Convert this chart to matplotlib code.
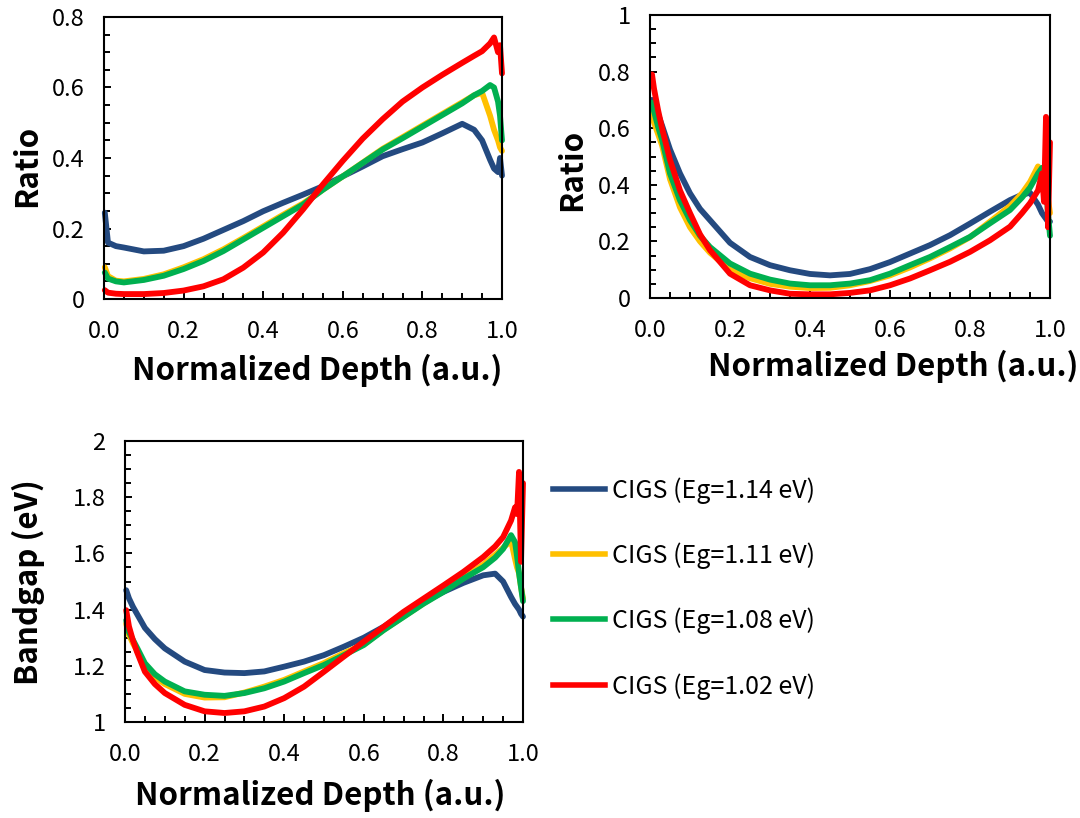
import matplotlib
matplotlib.use('Agg')
import matplotlib.pyplot as plt
from matplotlib.ticker import MultipleLocator
from matplotlib.lines import Line2D

plt.rcParams['font.family'] = ['Noto Sans CJK JP', 'DejaVu Sans']

labels = ['CIGS (Eg=1.14 eV)', 'CIGS (Eg=1.11 eV)', 'CIGS (Eg=1.08 eV)', 'CIGS (Eg=1.02 eV)']
colors = ['#244a80', '#ffc000', '#00b050', '#ff0000']

# top-left panel: ratio vs normalized depth
depth_a = [0.002, 0.01, 0.03, 0.05, 0.1, 0.15, 0.2, 0.25, 0.3, 0.35, 0.4, 0.45, 0.5, 0.55,
           0.6, 0.65, 0.7, 0.75, 0.8, 0.85, 0.9, 0.93, 0.95, 0.97, 0.98, 0.99, 0.995, 1.0]
ratio_a_114 = [0.245, 0.16, 0.15, 0.146, 0.135, 0.137, 0.15, 0.171, 0.196, 0.221, 0.249, 0.273, 0.296, 0.32,
               0.348, 0.376, 0.405, 0.425, 0.444, 0.47, 0.497, 0.48, 0.45, 0.395, 0.37, 0.36, 0.40, 0.35]
ratio_a_111 = [0.09, 0.065, 0.052, 0.05, 0.057, 0.07, 0.09, 0.113, 0.141, 0.173, 0.206, 0.239, 0.271, 0.31,
               0.348, 0.387, 0.426, 0.459, 0.492, 0.525, 0.558, 0.578, 0.585, 0.52, 0.48, 0.45, 0.43, 0.42]
ratio_a_108 = [0.075, 0.058, 0.05, 0.047, 0.054, 0.066, 0.085, 0.108, 0.136, 0.169, 0.202, 0.235, 0.268, 0.31,
               0.348, 0.386, 0.424, 0.456, 0.489, 0.522, 0.555, 0.578, 0.59, 0.607, 0.60, 0.56, 0.52, 0.45]
ratio_a_102 = [0.025, 0.018, 0.015, 0.014, 0.014, 0.017, 0.024, 0.036, 0.056, 0.089, 0.132, 0.188, 0.254, 0.325,
               0.392, 0.455, 0.51, 0.56, 0.60, 0.636, 0.67, 0.69, 0.703, 0.725, 0.742, 0.70, 0.72, 0.64]

# top-right panel: ratio vs normalized depth
depth_b = [0.005, 0.01, 0.02, 0.03, 0.05, 0.075, 0.1, 0.125, 0.15, 0.2, 0.25, 0.3, 0.35, 0.4, 0.45, 0.5,
           0.55, 0.6, 0.65, 0.7, 0.75, 0.8, 0.85, 0.9, 0.93, 0.95, 0.97, 0.98, 0.985, 0.99, 0.995, 1.0]
ratio_b_114 = [0.70, 0.68, 0.65, 0.61, 0.525, 0.44, 0.37, 0.315, 0.275, 0.195, 0.145, 0.116, 0.098, 0.085, 0.08, 0.085,
               0.102, 0.127, 0.157, 0.187, 0.222, 0.263, 0.305, 0.346, 0.365, 0.372, 0.33, 0.30, 0.29, 0.28, 0.27, 0.27]
ratio_b_111 = [0.65, 0.62, 0.58, 0.54, 0.42, 0.32, 0.25, 0.2, 0.16, 0.10, 0.07, 0.05, 0.04, 0.035, 0.036, 0.045,
               0.06, 0.08, 0.108, 0.14, 0.175, 0.215, 0.27, 0.325, 0.37, 0.41, 0.465, 0.44, 0.42, 0.40, 0.35, 0.30]
ratio_b_108 = [0.69, 0.66, 0.606, 0.56, 0.44, 0.345, 0.275, 0.22, 0.18, 0.122, 0.086, 0.065, 0.051, 0.045, 0.045, 0.051,
               0.063, 0.086, 0.116, 0.145, 0.18, 0.216, 0.264, 0.311, 0.355, 0.39, 0.44, 0.46, 0.45, 0.40, 0.30, 0.22]
ratio_b_102 = [0.79, 0.74, 0.665, 0.6, 0.488, 0.38, 0.30, 0.225, 0.169, 0.086, 0.045, 0.027, 0.015, 0.013, 0.013, 0.018,
               0.027, 0.045, 0.069, 0.098, 0.128, 0.163, 0.204, 0.252, 0.30, 0.335, 0.38, 0.44, 0.34, 0.64, 0.25, 0.55]

# bottom panel: bandgap vs normalized depth
depth_c = [0.003, 0.01, 0.02, 0.03, 0.05, 0.075, 0.1, 0.15, 0.2, 0.25, 0.3, 0.35, 0.4, 0.45, 0.5, 0.55,
           0.6, 0.65, 0.7, 0.75, 0.8, 0.85, 0.9, 0.93, 0.95, 0.97, 0.98, 0.985, 0.99, 0.995, 1.0]
gap_114 = [1.469, 1.44, 1.41, 1.385, 1.335, 1.295, 1.262, 1.215, 1.185, 1.176, 1.174, 1.18, 1.197, 1.215, 1.238, 1.268,
           1.30, 1.339, 1.386, 1.427, 1.463, 1.495, 1.522, 1.528, 1.50, 1.445, 1.42, 1.41, 1.40, 1.385, 1.375]
gap_111 = [1.35, 1.31, 1.28, 1.255, 1.2, 1.16, 1.135, 1.1, 1.087, 1.088, 1.105, 1.126, 1.15, 1.18, 1.21, 1.245,
           1.276, 1.328, 1.375, 1.422, 1.466, 1.512, 1.56, 1.595, 1.62, 1.645, 1.58, 1.55, 1.53, 1.48, 1.44]
gap_108 = [1.362, 1.32, 1.292, 1.265, 1.209, 1.17, 1.144, 1.109, 1.097, 1.093, 1.103, 1.12, 1.144, 1.174, 1.203, 1.238,
           1.274, 1.327, 1.374, 1.421, 1.463, 1.51, 1.551, 1.585, 1.616, 1.665, 1.64, 1.59, 1.53, 1.48, 1.43]
gap_102 = [1.398, 1.34, 1.29, 1.25, 1.179, 1.135, 1.103, 1.061, 1.038, 1.032, 1.038, 1.055, 1.085, 1.126, 1.179, 1.233,
           1.286, 1.339, 1.392, 1.439, 1.486, 1.534, 1.587, 1.625, 1.658, 1.717, 1.764, 1.74, 1.89, 1.57, 1.85]

W, H = 1080, 818
fig = plt.figure(figsize=(W / 100, H / 100), dpi=100)


def box(l, t, r, b):
    return [l / W, 1 - b / H, (r - l) / W, (b - t) / H]


def style(ax, ymin, ymax, yfmt):
    ax.set_xlim(0, 1)
    ax.set_ylim(ymin, ymax)
    ax.xaxis.set_major_locator(MultipleLocator(0.2))
    ax.xaxis.set_minor_locator(MultipleLocator(0.05))
    ax.yaxis.set_major_locator(MultipleLocator(0.2))
    ax.yaxis.set_minor_locator(MultipleLocator(0.05))
    ax.xaxis.set_major_formatter(lambda v, p: f"{v:.1f}")
    ax.yaxis.set_major_formatter(yfmt)
    ax.tick_params(which='both', direction='in', top=False, right=False, labelsize=17, width=1.4)
    ax.tick_params(axis='x', which='major', length=6, pad=15)
    ax.tick_params(axis='x', which='minor', length=4)
    ax.tick_params(axis='y', which='major', length=5, pad=14)
    ax.tick_params(axis='y', which='minor', length=4)
    for s in ax.spines.values():
        s.set_linewidth(1.5)


def fmt_ratio(v, p):
    return '0' if abs(v) < 1e-9 else ('1' if abs(v - 1) < 1e-9 else f"{v:.1f}")


def fmt_gap(v, p):
    return f"{v:.0f}" if abs(v - round(v)) < 1e-9 else f"{v:.1f}"


lw = 4.2

ax1 = fig.add_axes(box(104, 17, 502, 299))
for y, c in zip([ratio_a_114, ratio_a_111, ratio_a_108, ratio_a_102], colors):
    ax1.plot(depth_a, y, color=c, lw=lw, solid_capstyle='round', clip_on=False)
style(ax1, 0, 0.8, fmt_ratio)

ax2 = fig.add_axes(box(650, 15, 1050, 298))
for y, c in zip([ratio_b_114, ratio_b_111, ratio_b_108, ratio_b_102], colors):
    ax2.plot(depth_b, y, color=c, lw=lw, solid_capstyle='round', clip_on=False)
style(ax2, 0, 1.0, fmt_ratio)

ax3 = fig.add_axes(box(125, 441, 523, 722))
for y, c in zip([gap_114, gap_111, gap_108, gap_102], colors):
    ax3.plot(depth_c, y, color=c, lw=lw, solid_capstyle='round', clip_on=False)
style(ax3, 1.0, 2.0, fmt_gap)

lab = dict(fontsize=22.5, fontweight='bold', ha='center', va='center')
fig.text(317 / W, 1 - 370 / H, 'Normalized Depth (a.u.)', **lab)
fig.text(893 / W, 1 - 366 / H, 'Normalized Depth (a.u.)', **lab)
fig.text(320 / W, 1 - 795 / H, 'Normalized Depth (a.u.)', **lab)
fig.text(27 / W, 1 - 166 / H, 'Ratio', rotation=90, **lab)
fig.text(572 / W, 1 - 170 / H, 'Ratio', rotation=90, **lab)
fig.text(28 / W, 1 - 582 / H, 'Bandgap (eV)', rotation=90, **lab)

handles = [Line2D([], [], color=c, lw=4) for c in colors]
fig.legend(handles, labels, loc='upper left', bbox_to_anchor=(553 / W, 1 - 477 / H),
           frameon=False, fontsize=18, handlelength=2.08, handletextpad=0.28,
           labelspacing=1.55, borderpad=0, borderaxespad=0)

fig.savefig('out.png', dpi=100)
